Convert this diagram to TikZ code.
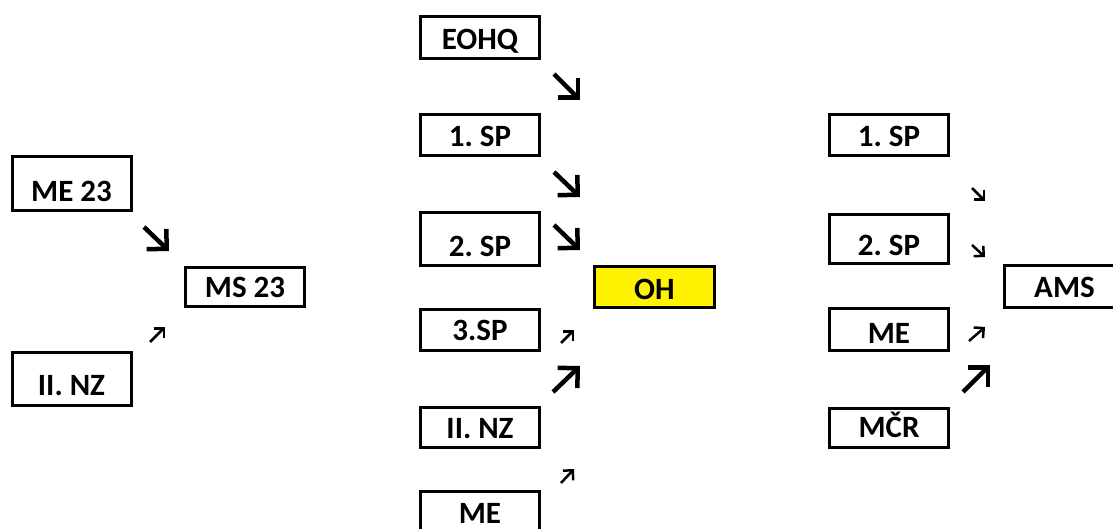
\documentclass[tikz,border=0pt]{standalone}
\usepackage{fontspec}
\setmainfont{Carlito}
\usetikzlibrary{arrows.meta}
\frenchspacing
\begin{document}
\begin{tikzpicture}[x=1pt,y=-1pt,
  box/.style 2 args={draw, line width=3pt, inner sep=0pt, minimum width=119pt,
    text height=#1, text depth=#2, font=\bfseries\fontsize{31}{36}\selectfont},
  bigarr/.style={line width=4.5pt, -{Straight Barb[sharp, angle=90:20pt]}},
  smallarr/.style={line width=2.5pt, -{Straight Barb[sharp, angle=90:10pt]}}]
\useasboundingbox (0,0) rectangle (1113,529);
\clip (0,0) rectangle (1113,529);
% left group
\node[box={45.2pt}{8.8pt}] (me23) at (71.5,183.5) {ME 23};
\node[box={29.5pt}{9.5pt}] (ms23) at (245,287) {MS 23};
\node[box={42.5pt}{10.5pt}] (nzl) at (71.5,379) {II. NZ};
% middle group
\node[box={33.5pt}{8.5pt}] (eohq) at (480,37.5) {EOHQ};
\node[box={32.2pt}{8.8pt}] (sp1m) at (480,135) {1. SP};
\node[box={44.2pt}{8.8pt}] (sp2m) at (480,239) {2. SP};
\node[box={32.8pt}{8.2pt}, minimum width=120pt, fill=yellow] (oh) at (654.5,287) {OH};
\node[box={31.2pt}{9.8pt}] (sp3m) at (480,330) {3.SP};
\node[box={30.8pt}{9.2pt}] (nzm) at (480,427.5) {II. NZ};
\node[box={31.5pt}{12pt}] (mem) at (480,513.25) {ME};
% right group
\node[box={32.2pt}{8.8pt}] (sp1r) at (889,135) {1. SP};
\node[box={40.5pt}{8.5pt}] (sp2r) at (889,239) {2. SP};
\node[box={31.5pt}{10.5pt}, minimum width=120pt] (ams) at (1064.5,286.5) {AMS};
\node[box={34.5pt}{7.5pt}] (mer) at (889,329.5) {ME};
\node[box={28.5pt}{10.5pt}] (mcr) at (889,428) {MČR};
% arrow end points
\coordinate (l1s) at (144,227); \coordinate (l1e) at (169,251);
\coordinate (l2s) at (150,342); \coordinate (l2e) at (165,327);
\coordinate (m1s) at (554,74);  \coordinate (m1e) at (580,100);
\coordinate (m2s) at (554,172); \coordinate (m2e) at (580,197);
\coordinate (m3s) at (554,225); \coordinate (m3e) at (580,250);
\coordinate (m4s) at (561,343); \coordinate (m4e) at (574,330);
\coordinate (m5s) at (553,392); \coordinate (m5e) at (580,366);
\coordinate (m6s) at (561,483); \coordinate (m6e) at (574,469);
\coordinate (r1s) at (972,188); \coordinate (r1e) at (985,201);
\coordinate (r2s) at (972,245); \coordinate (r2e) at (985,257);
\coordinate (r3s) at (969,341); \coordinate (r3e) at (985,327);
\coordinate (r4s) at (963,392); \coordinate (r4e) at (990,365);
% arrows
\draw[bigarr] (l1s) -- (l1e);
\draw[smallarr] (l2s) -- (l2e);
\draw[bigarr] (m1s) -- (m1e);
\draw[bigarr] (m2s) -- (m2e);
\draw[bigarr] (m3s) -- (m3e);
\draw[smallarr] (m4s) -- (m4e);
\draw[bigarr] (m5s) -- (m5e);
\draw[smallarr] (m6s) -- (m6e);
\draw[smallarr] (r1s) -- (r1e);
\draw[smallarr] (r2s) -- (r2e);
\draw[smallarr] (r3s) -- (r3e);
\draw[bigarr] (r4s) -- (r4e);
\end{tikzpicture}
\end{document}
